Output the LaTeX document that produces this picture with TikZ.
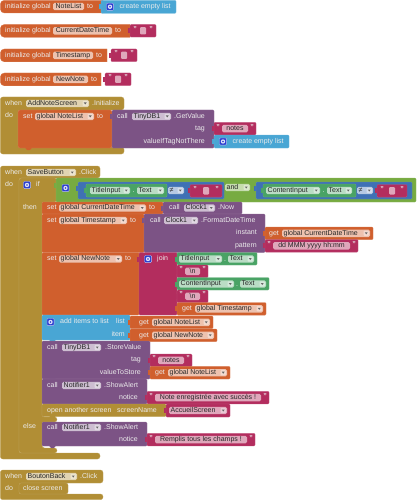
\documentclass[tikz,border=0pt]{standalone}
\usepackage{fontspec}
\setmainfont{Liberation Sans}
\definecolor{bkorange}{HTML}{D05F2D}
\definecolor{bkpink}{HTML}{B32D5E}
\definecolor{bkblue}{HTML}{49A6D4}
\definecolor{bkpurple}{HTML}{7C5385}
\definecolor{bkgold}{HTML}{B18E35}
\definecolor{bklime}{HTML}{77AB41}
\definecolor{bkcomp}{HTML}{3F71B5}
\definecolor{bkteal}{HTML}{49A365}
\definecolor{bkicon}{HTML}{2B3FD0}
\colorlet{tintorange}{bkorange!38!white}
\colorlet{tintpink}{bkpink!42!white}
\colorlet{tintpurple}{bkpurple!38!white}
\colorlet{tintgold}{bkgold!38!white}
\colorlet{tintteal}{bkteal!38!white}
\colorlet{tintcomp}{bkcomp!38!white}
\colorlet{tintlime}{bklime!42!white}
\tikzset{
  orangeb/.style={fill=bkorange,draw=bkorange!82!white,line width=.3pt},
  pinkb/.style={fill=bkpink,draw=bkpink!82!white,line width=.3pt},
  blueb/.style={fill=bkblue,draw=bkblue!82!white,line width=.3pt},
  purpleb/.style={fill=bkpurple,draw=bkpurple!82!white,line width=.3pt},
  goldb/.style={fill=bkgold,draw=bkgold!82!white,line width=.3pt},
  limeb/.style={fill=bklime,draw=bklime!82!white,line width=.3pt},
  compb/.style={fill=bkcomp,draw=bkcomp!82!white,line width=.3pt},
  tealb/.style={fill=bkteal,draw=bkteal!82!white,line width=.3pt},
  lab/.style={anchor=west,inner sep=0pt,text=white!92!black,font=\fontsize{7}{8}\selectfont,text height=5pt,text depth=1.5pt},
  labr/.style={lab,anchor=east},
  fldtext/.style={lab,text=black!85},
  quot/.style={lab,anchor=center,font=\fontsize{7}{8}\selectfont\bfseries}
}
% one block body
\newcommand{\blk}[5]{\filldraw[#1,rounded corners=1] (#2,#3) rectangle (#4,#5);}
% puzzle tab on the left side of a block
\newcommand{\tabk}[3]{\fill[#1,draw=none] (#2-2.5,#3-2.5) rectangle (#2+.5,#3+2.5);}
% notch under a statement
\newcommand{\bump}[3]{\fill[#1,draw=none,rounded corners=1] (#2,#3-.5) -- (#2+1.5,#3+2) -- (#2+5.5,#3+2) -- (#2+7,#3-.5) -- cycle;}
% plain field, text centred
\newcommand{\fld}[6]{\fill[#2,rounded corners=1.5] (#3,#5-3.7) rectangle (#4,#5+3.7);
  \node[fldtext,anchor=center] (#1) at ({(#3+#4)/2},#5) {#6};}
% field with drop-down
\newcommand{\ddn}[6]{\fill[#2,rounded corners=1.5] (#3,#5-3.7) rectangle (#4,#5+3.7);
  \fill[white,opacity=.4,rounded corners=1] (#4-6.5,#5-2.6) rectangle (#4-1,#5+2.6);
  \fill[black!60] (#4-5.2,#5-1) -- (#4-2.3,#5-1) -- (#4-3.75,#5+1) -- cycle;
  \node[fldtext] (#1) at (#3+1.5,#5) {#6};}
% mutator icon
\newcommand{\gear}[2]{\fill[bkicon,rounded corners=1,draw=white!70!bkicon,line width=.3pt] (#1-3.6,#2-3.6) rectangle (#1+3.6,#2+3.6);
  \fill[white!85!bkicon] (#1,#2) circle[radius=2.2pt];
  \fill[bkicon] (#1,#2) circle[radius=.9pt];}
% text block with its two quotes
\newcommand{\strb}[5]{\tabk{bkpink}{#2}{#4+6.3}
  \blk{pinkb}{#2}{#4}{#3}{#4+12.6}
  \node[quot] (#1a) at (#2+4,#4+5.2) {"};
  \node[quot] (#1b) at (#3-4,#4+5.2) {"};
  \fld{#1}{tintpink}{#2+8}{#3-8}{#4+6.3}{#5}}
% empty text block
\newcommand{\strempty}[4]{\tabk{bkpink}{#2}{#4+6.3}
  \blk{pinkb}{#2}{#4}{#3}{#4+12.6}
  \node[quot] (#1a) at (#2+5,#4+5.2) {"};
  \node[quot] (#1b) at (#3-5,#4+5.2) {"};
  \fill[tintpink,rounded corners=1] ({(#2+#3)/2-3},#4+2.6) rectangle ({(#2+#3)/2+3},#4+10);}
% "create empty list" block
\newcommand{\emptyl}[4]{\tabk{bkblue}{#2}{#4+6.5}
  \blk{blueb}{#2}{#4}{#3}{#4+13}
  \gear{#2+9}{#4+6.5}
  \node[lab] (#1) at (#2+18.5,#4+6.5) {create empty list};}
% get block
\newcommand{\getb}[6]{\tabk{bkorange}{#2}{#4+6.3}
  \blk{orangeb}{#2}{#4}{#3}{#4+12.6}
  \node[lab] (#1a) at (#5,#4+6.3) {get};
  \ddn{#1}{tintorange}{#5+13}{#3-3}{#4+6.3}{#6}}
\begin{document}
\begin{tikzpicture}[x=1pt,y=-1pt]
  \useasboundingbox (0,0) rectangle (416,500);

  % Initialize blocks
  \filldraw[orangeb,rounded corners=4] (103,0.3) -- (0.3,0.3) -- (0.3,13) [sharp corners] -- (103,13) -- cycle;
  \node[lab] (initA) at (5,6.5) {initialize global};
  \fld{noteA}{tintorange}{53}{84}{6.5}{NoteList}
  \node[lab] (toA) at (87,6.5) {to};
  \emptyl{emptyA}{101}{176}{0.3}

  \foreach \nm/\yy/\fx/\ox/\px in {CurrentDateTime/24.5/112/130/156, Timestamp/49/93/107/137, NewNote/73/88/101/131}{
    \filldraw[orangeb,rounded corners=4] (\ox,\yy) -- (0.3,\yy) -- (0.3,\yy+12.8) [sharp corners] -- (\ox,\yy+12.8) -- cycle;
    \node[lab] (init\nm) at (5,\yy+6.4) {initialize global};
    \fld{var\nm}{tintorange}{53}{\fx}{\yy+6.4}{\nm}
    \node[lab] (to\nm) at (\fx+3,\yy+6.4) {to};
    \strempty{str\nm}{\px-26}{\px}{\yy}
  }

  % AddNoteScreen.Initialize
  \filldraw[goldb,rounded corners=2.5] (0.3,97) -- (124,97) -- (124,110) -- (18,110) -- (18,147) -- (124,147) -- (124,154) -- (0.3,154) -- cycle;
  \node[lab] (whenA) at (5,103.5) {when};
  \ddn{scrA}{tintgold}{26}{89}{103.5}{AddNoteScreen}
  \node[lab] (evA) at (92,103.5) {.Initialize};
  \node[lab] (doA) at (5,116) {do};
  \filldraw[orangeb,rounded corners=2] (112,110) -- (18,110) -- (18,148) -- (112,148) -- cycle;
  \bump{bkorange}{25}{148}
  \node[lab] (setA) at (23,116.5) {set};
  \ddn{gblA}{tintorange}{35}{94}{116.5}{global NoteList}
  \node[lab] (toB) at (97,116.5) {to};
  \tabk{bkpurple}{112}{116.5}
  \blk{purpleb}{112}{110}{214}{148}
  \node[lab] (callA) at (117,116.5) {call};
  \ddn{dbA}{tintpurple}{132}{171}{116.5}{TinyDB1}
  \node[lab] (getvalA) at (174,116.5) {.GetValue};
  \node[labr] (tagA) at (205,129) {tag};
  \node[labr] (ifnotA) at (205,141.5) {valueIfTagNotThere};
  \strb{strA}{214}{256}{122.3}{notes}
  \emptyl{emptyB}{214}{289}{135}

  % SaveButton.Click
  \filldraw[goldb,rounded corners=2.5] (0.3,166) -- (100,166) -- (100,178) -- (19,178) -- (19,453) -- (100,453) -- (100,459) -- (0.3,459) -- cycle;
  \node[lab] (whenB) at (5,172.5) {when};
  \ddn{btnB}{tintgold}{26}{76}{172.5}{SaveButton}
  \node[lab] (evB) at (79,172.5) {.Click};
  \node[lab] (doB) at (5,185) {do};

  % if, then, else
  \filldraw[goldb,rounded corners=2.5] (19,178) -- (57,178) -- (57,202) -- (42,202) -- (42,417) -- (57,417) -- (57,422) -- (42,422) -- (42,448) -- (57,448) -- (57,453) -- (19,453) -- cycle;
  \gear{27}{185}
  \node[lab] (ifB) at (36,185) {if};
  \node[lab] (thenB) at (23,207.5) {then};
  \node[lab] (elseB) at (23,427) {else};

  % and block with its two comparisons
  \tabk{bklime}{56}{185}
  \blk{limeb}{56}{178}{416}{202}
  \gear{65.5}{188}
  \ddn{andB}{tintlime}{225}{250}{187.5}{and}
  \tabk{bkcomp}{78}{188}
  \blk{compb}{78}{182}{224}{199}
  \tabk{bkteal}{86}{190}
  \blk{tealb}{86}{184}{167}{197}
  \ddn{ttlB}{tintteal}{90}{130}{190.5}{TitleInput}
  \node[lab] (dotB) at (132.5,191) {.};
  \ddn{txtB}{tintteal}{137}{164}{190.5}{Text}
  \ddn{neB}{tintcomp}{168}{184}{190.5}{≠}
  \strempty{strB}{190}{222}{184.5}
  \tabk{bkcomp}{256}{188}
  \blk{compb}{256}{182}{412}{199}
  \tabk{bkteal}{263}{190}
  \blk{tealb}{263}{184}{356}{197}
  \ddn{cntB}{tintteal}{266}{320}{190.5}{ContentInput}
  \node[lab] (dotC) at (322.5,191) {.};
  \ddn{txtC}{tintteal}{327}{352}{190.5}{Text}
  \ddn{neC}{tintcomp}{357}{373}{190.5}{≠}
  \strempty{strC}{377}{407}{184.5}

  % set CurrentDateTime
  \blk{orangeb}{42}{202}{163}{214}
  \node[lab] (setB) at (47,208) {set};
  \ddn{gblB}{tintorange}{59}{146}{208}{global CurrentDateTime}
  \node[lab] (toC) at (149,208) {to};
  \tabk{bkpurple}{163}{208}
  \blk{purpleb}{163}{202}{242}{214}
  \node[lab] (callB) at (169,208) {call};
  \ddn{clkA}{tintpurple}{184}{215}{208}{Clock1}
  \node[lab] (nowA) at (218,208) {.Now};

  % set Timestamp
  \blk{orangeb}{42}{214}{144}{252.5}
  \node[lab] (setC) at (47,220.5) {set};
  \ddn{gblC}{tintorange}{59}{127}{220.5}{global Timestamp}
  \node[lab] (toD) at (130,220.5) {to};
  \tabk{bkpurple}{144}{220.5}
  \blk{purpleb}{144}{214}{265}{252.5}
  \node[lab] (callC) at (150,220.5) {call};
  \ddn{clkB}{tintpurple}{164}{198}{220.5}{Clock1}
  \node[lab] (fmtA) at (201,220.5) {.FormatDateTime};
  \node[labr] (instA) at (257,233) {instant};
  \node[labr] (patA) at (257,245.5) {pattern};
  \getb{getA}{265}{373}{227}{269}{global CurrentDateTime}
  \strb{strD}{265}{358}{239.5}{dd MMM yyyy hh:mm}

  % set NewNote and join
  \blk{orangeb}{42}{252.5}{139}{315}
  \bump{bkorange}{49}{315}
  \node[lab] (setD) at (47,259) {set};
  \ddn{gblD}{tintorange}{59}{122}{259}{global NewNote}
  \node[lab] (toE) at (125,259) {to};
  \tabk{bkpink}{139}{259}
  \blk{pinkb}{139}{252.5}{177}{315}
  \gear{148}{259}
  \node[lab] (joinA) at (157,259) {join};
  \tabk{bkteal}{177}{259}
  \blk{tealb}{177}{252.5}{257}{265}
  \ddn{ttlC}{tintteal}{179}{222}{259}{TitleInput}
  \node[lab] (dotD) at (224,259.5) {.};
  \ddn{txtD}{tintteal}{228}{254}{259}{Text}
  \strb{nlA}{177}{208}{265}{\textbackslash n}
  \tabk{bkteal}{177}{284}
  \blk{tealb}{177}{277.5}{269}{290}
  \ddn{cntC}{tintteal}{179}{234}{284}{ContentInput}
  \node[lab] (dotE) at (236,284.5) {.};
  \ddn{txtE}{tintteal}{240}{266}{284}{Text}
  \strb{nlB}{177}{208}{290}{\textbackslash n}
  \getb{getB}{177}{266}{302.5}{182}{global Timestamp}

  % add items to list
  \blk{blueb}{42}{315}{130}{340}
  \bump{bkblue}{49}{340}
  \gear{50.5}{322}
  \node[lab] (addA) at (60,322) {add items to list};
  \node[labr] (listA) at (125,322) {list};
  \node[labr] (itemA) at (125,335) {item};
  \getb{getC}{130}{213}{316}{139}{global NoteList}
  \getb{getD}{130}{217}{329}{139}{global NewNote}

  % TinyDB1.StoreValue
  \blk{purpleb}{42}{341}{150}{379}
  \bump{bkpurple}{49}{379}
  \node[lab] (callD) at (47,347.5) {call};
  \ddn{dbB}{tintpurple}{62}{101}{347.5}{TinyDB1}
  \node[lab] (storeA) at (105,347.5) {.StoreValue};
  \node[labr] (tagB) at (141,360) {tag};
  \node[labr] (vtsA) at (141,372.5) {valueToStore};
  \strb{strE}{150}{192}{354}{notes}
  \getb{getE}{150}{230}{366.4}{155}{global NoteList}

  % Notifier1.ShowAlert, success
  \blk{purpleb}{42}{379}{147}{404}
  \bump{bkpurple}{49}{404}
  \node[lab] (callE) at (47,385.5) {call};
  \ddn{ntfA}{tintpurple}{62}{101}{385.5}{Notifier1}
  \node[lab] (showA) at (104,385.5) {.ShowAlert};
  \node[labr] (noticeA) at (138,398) {notice};
  \strb{strF}{147}{269}{391.3}{Note enregistrée avec succès !}

  % open another screen
  \filldraw[goldb,rounded corners=1] (42,404) rectangle (166,416.5);
  \bump{bkgold}{49}{416.5}
  \node[lab] (openA) at (47,410.5) {open another screen};
  \node[lab] (scrB) at (117,410.5) {screenName};
  \tabk{bkpink}{166}{410.5}
  \blk{pinkb}{166}{404}{230}{417}
  \ddn{accA}{tintpink}{169}{227}{410.5}{AccueilScreen}

  % Notifier1.ShowAlert, else
  \blk{purpleb}{42}{422}{147}{446}
  \bump{bkpurple}{49}{446}
  \node[lab] (callF) at (47,427.5) {call};
  \ddn{ntfB}{tintpurple}{62}{101}{427.5}{Notifier1}
  \node[lab] (showB) at (104,427.5) {.ShowAlert};
  \node[labr] (noticeB) at (138,440) {notice};
  \strb{strG}{147}{255}{433.3}{Remplis tous les champs !}

  % BoutonBack.Click
  \filldraw[goldb,rounded corners=2.5] (0.3,470) -- (103,470) -- (103,483) -- (19,483) -- (19,494) -- (103,494) -- (103,499.7) -- (0.3,499.7) -- cycle;
  \node[lab] (whenC) at (5,476.5) {when};
  \ddn{btnC}{tintgold}{26}{77}{476.5}{BoutonBack}
  \node[lab] (evC) at (80,476.5) {.Click};
  \node[lab] (doC) at (5,489) {do};
  \filldraw[goldb,rounded corners=2] (19,483) rectangle (68,494);
  \node[lab] (closeA) at (23,489) {close screen};
\end{tikzpicture}
\end{document}
